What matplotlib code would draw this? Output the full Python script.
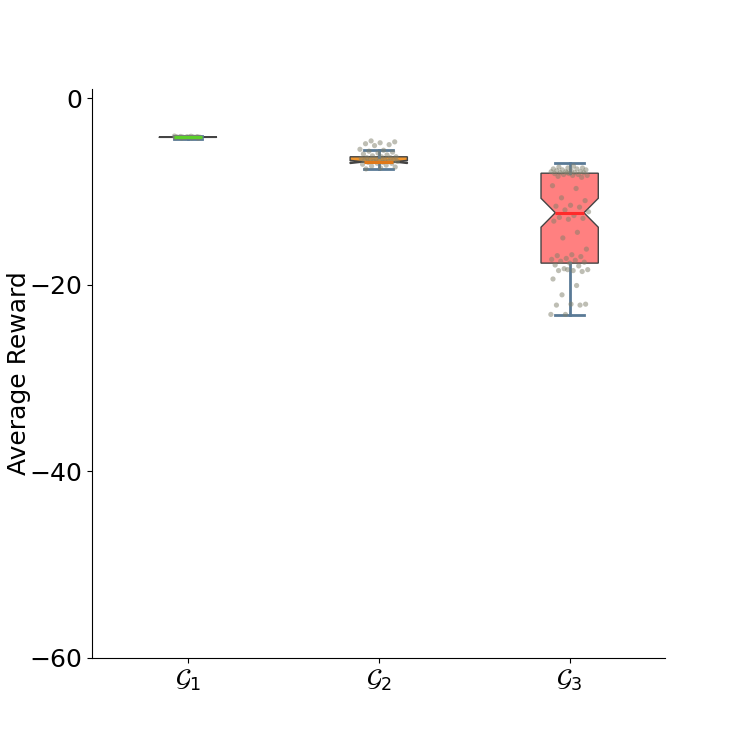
import matplotlib
matplotlib.use("Agg")
import matplotlib.pyplot as plt
import numpy as np

labels = [r"$\mathcal{G}_1$", r"$\mathcal{G}_2$", r"$\mathcal{G}_3$"]
box_colors = ["#6cc644", "#f0962e", "#ff8080"]
median_colors = ["#5ccf2a", "#e07818", "#ff2a2a"]

# box statistics
med = [-4.20, -6.85, -12.3]
q1 = [-4.22, -6.88, -17.7]
q3 = [-4.18, -6.30, -8.06]
whislo = [-4.36, -7.57, -23.3]
whishi = [-4.04, -5.60, -7.0]
cilo = [-4.21, -7.02, -13.85]
cihi = [-4.19, -6.68, -10.75]

# individual runs (jittered points)
g1_points = [-4.08, -4.10, -4.12, -4.14, -4.15, -4.17, -4.18, -4.20,
             -4.20, -4.20, -4.22, -4.23, -4.25, -4.26, -4.28, -4.30, -4.32]
g2_points = [-4.6, -4.7, -4.8, -4.9, -5.0, -5.1, -5.5, -5.6, -5.7, -5.8,
             -5.9, -6.0, -6.1, -6.2, -6.3, -6.3, -6.4, -6.4, -6.5, -6.5,
             -6.6, -6.6, -6.7, -6.7, -6.7, -6.8, -6.8, -6.8, -6.9, -6.9,
             -7.0, -7.0, -7.1, -7.2, -7.3, -7.4, -7.5, -7.6]
g3_points = [-7.3, -7.4, -7.5, -7.5, -7.6, -7.6, -7.7, -7.7, -7.8, -7.8,
             -7.9, -7.9, -7.9, -8.0, -8.0, -8.0, -8.1, -8.1, -8.2, -8.2,
             -8.3, -8.3, -8.4, -8.5, -8.0,
             -9.4, -9.7, -10.7, -11.0, -11.5, -11.6, -11.7, -12.0, -12.2, -12.6,
             -12.8, -12.9, -13.0, -13.2, -14.4, -15.0, -16.2, -16.8, -16.9, -17.0,
             -17.2, -17.3, -17.4, -17.5, -17.6, -17.7,
             -17.9, -18.0, -18.3, -18.4, -18.5, -18.5, -18.6, -18.4, -19.4, -20.1,
             -21.1, -22.1, -22.1, -22.2, -22.2, -23.2, -23.2]
points = [g1_points, g2_points, g3_points]
jitter_width = [0.14, 0.2, 0.2]

fig = plt.figure(figsize=(7.39, 7.39), dpi=100)
ax = fig.add_subplot(111)

stats = []
for i in range(3):
    stats.append(dict(med=med[i], q1=q1[i], q3=q3[i], whislo=whislo[i], whishi=whishi[i],
                      cilo=cilo[i], cihi=cihi[i], fliers=[], label=labels[i]))

positions = [1, 2, 3]
bp = ax.bxp(stats, positions=positions, widths=0.3, shownotches=True, patch_artist=True,
            showfliers=False,
            boxprops=dict(edgecolor="#444444", linewidth=1),
            whiskerprops=dict(color="#5a7a96", linewidth=2),
            capprops=dict(color="#5a7a96", linewidth=2),
            medianprops=dict(linewidth=2.2))
for patch, c in zip(bp["boxes"], box_colors):
    patch.set_facecolor(c)
for m, c in zip(bp["medians"], median_colors):
    m.set_color(c)
    m.set_zorder(2.5)

golden = 0.6180339887
for i, vals in enumerate(points):
    n = len(vals)
    offs = np.array([((k * golden + 0.3 * i) % 1.0) - 0.5 for k in range(n)]) * jitter_width[i]
    ax.scatter(positions[i] + offs, vals, s=14, color="#7f7f6a", alpha=0.5,
               edgecolors="none", zorder=2.2)

ax.set_xlim(0.5, 3.5)
ax.set_ylim(-60, 1)
ax.set_yticks([0, -20, -40, -60])
ax.set_xticks(positions)
ax.set_xticklabels(labels)
ax.tick_params(axis="both", labelsize=18)
ax.set_ylabel("Average Reward", fontsize=18, labelpad=-1)
ax.spines["top"].set_visible(False)
ax.spines["right"].set_visible(False)

fig.savefig("out.png", dpi=100)
